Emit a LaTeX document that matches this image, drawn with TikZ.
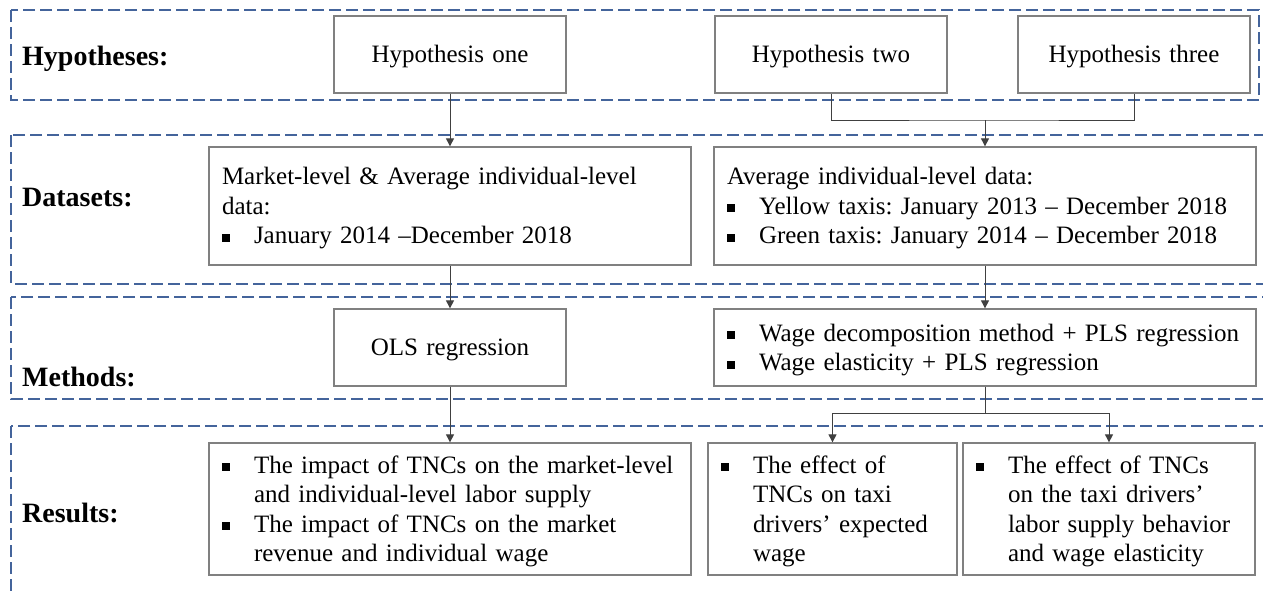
\documentclass[tikz,border=0pt]{standalone}
\usepackage{fontspec}
\setmainfont{Liberation Serif}
\usetikzlibrary{arrows.meta}
\definecolor{dashblue}{HTML}{44649B}
\definecolor{boxgray}{HTML}{808080}
\definecolor{linegray}{HTML}{404040}
\newcommand\sqbul{\makebox[32pt][l]{\rule[2pt]{8pt}{8pt}}}
\newcommand\bind{\hspace*{32pt}}
\newcommand\topst{\rule{0pt}{22.3pt}}
\newcommand\botst{\rule[-5.4pt]{0pt}{5.4pt}}
\begin{document}
\frenchspacing
\begin{tikzpicture}[x=1pt,y=-1pt,
  frame/.style={draw=dashblue, line width=1.8pt, dash pattern=on 12pt off 5pt},
  pbox/.style={draw=boxgray, line width=1.3pt, inner xsep=13pt, inner ysep=0pt, font=\fontsize{25}{29.5}\selectfont\frenchspacing, align=left},
  cbox/.style={pbox, align=center},
  lab/.style={anchor=base west, inner sep=0pt, font=\fontsize{28}{32}\selectfont\bfseries},
  conn/.style={draw=linegray, line width=1pt},
  arr/.style={conn, -{Triangle[length=8pt,width=8pt]}}
]
\clip (0,0) rectangle (1263,590);
\fill[white] (0,0) rectangle (1263,590);

% frames
\draw[frame] (11,10) rectangle (1259,100);
\draw[frame] (11,135) rectangle (1280,284);
\draw[frame] (11,297) rectangle (1280,399);
\draw[frame] (11,426) rectangle (1280,620);

% labels
\node[lab] (lhyp) at (22,65) {Hypotheses:};
\node[lab] (ldat) at (22,206) {Datasets:};
\node[lab] (lmet) at (22,386) {Methods:};
\node[lab] (lres) at (22,522) {Results:};

% hypotheses
\node[cbox, text width=206pt, minimum width=232pt, minimum height=77pt] (h1) at (450,54.5) {\topst Hypothesis one\botst};
\node[cbox, text width=206pt, minimum width=232pt, minimum height=77pt] (h2) at (831,54.5) {\topst Hypothesis two\botst};
\node[cbox, text width=206pt, minimum width=232pt, minimum height=77pt] (h3) at (1134,54.5) {\topst Hypothesis three\botst};

% datasets
\node[pbox, text width=456pt, minimum width=482pt, minimum height=118pt] (dl) at (450,206)
  {\topst Market-level \& Average individual-level\\data:\\\sqbul January 2014 –December 2018\botst};
\node[pbox, text width=516pt, minimum width=542pt, minimum height=118pt] (dr) at (985,206)
  {\topst Average individual-level data:\\\sqbul Yellow taxis: January 2013 – December 2018\\\sqbul Green taxis: January 2014 – December 2018\botst};

% methods
\node[cbox, text width=206pt, minimum width=232pt, minimum height=77pt] (ml) at (450,347.5) {\topst OLS regression\botst};
\node[pbox, text width=516pt, minimum width=542pt, minimum height=77pt] (mr) at (985,347.5)
  {\topst\sqbul Wage decomposition method + PLS regression\\\sqbul Wage elasticity + PLS regression\botst};

% results
\node[pbox, text width=456pt, minimum width=482pt, minimum height=132pt] (rl) at (450,509)
  {\topst\sqbul The impact of TNCs on the market-level\\\bind and individual-level labor supply\\\sqbul The impact of TNCs on the market\\\bind revenue and individual wage\botst};
\node[pbox, text width=223pt, minimum width=249pt, minimum height=132pt] (rm) at (832.5,509)
  {\topst\sqbul The effect of\\\bind TNCs on taxi\\\bind drivers’ expected\\\bind wage\botst};
\node[pbox, text width=266pt, minimum width=292pt, minimum height=132pt] (rr) at (1109,509)
  {\topst\sqbul The effect of TNCs\\\bind on the taxi drivers’\\\bind labor supply behavior\\\bind and wage elasticity\botst};

% connectors
\draw[arr] (h1.south) -- (dl.north);
\coordinate (j) at (985,120);
\draw[conn] (h2.south) |- (j) -| (h3.south);
\draw[arr] (j) -- (dr.north);
\draw[arr] (dl.south) -- (ml.north);
\draw[arr] (dr.south) -- (mr.north);
\draw[arr] (ml.south) -- (rl.north);
\coordinate (k) at (985,413);
\draw[conn] (mr.south) -- (k);
\draw[arr] (k) -| (rm.north);
\draw[arr] (k) -| (rr.north);
\end{tikzpicture}
\end{document}
